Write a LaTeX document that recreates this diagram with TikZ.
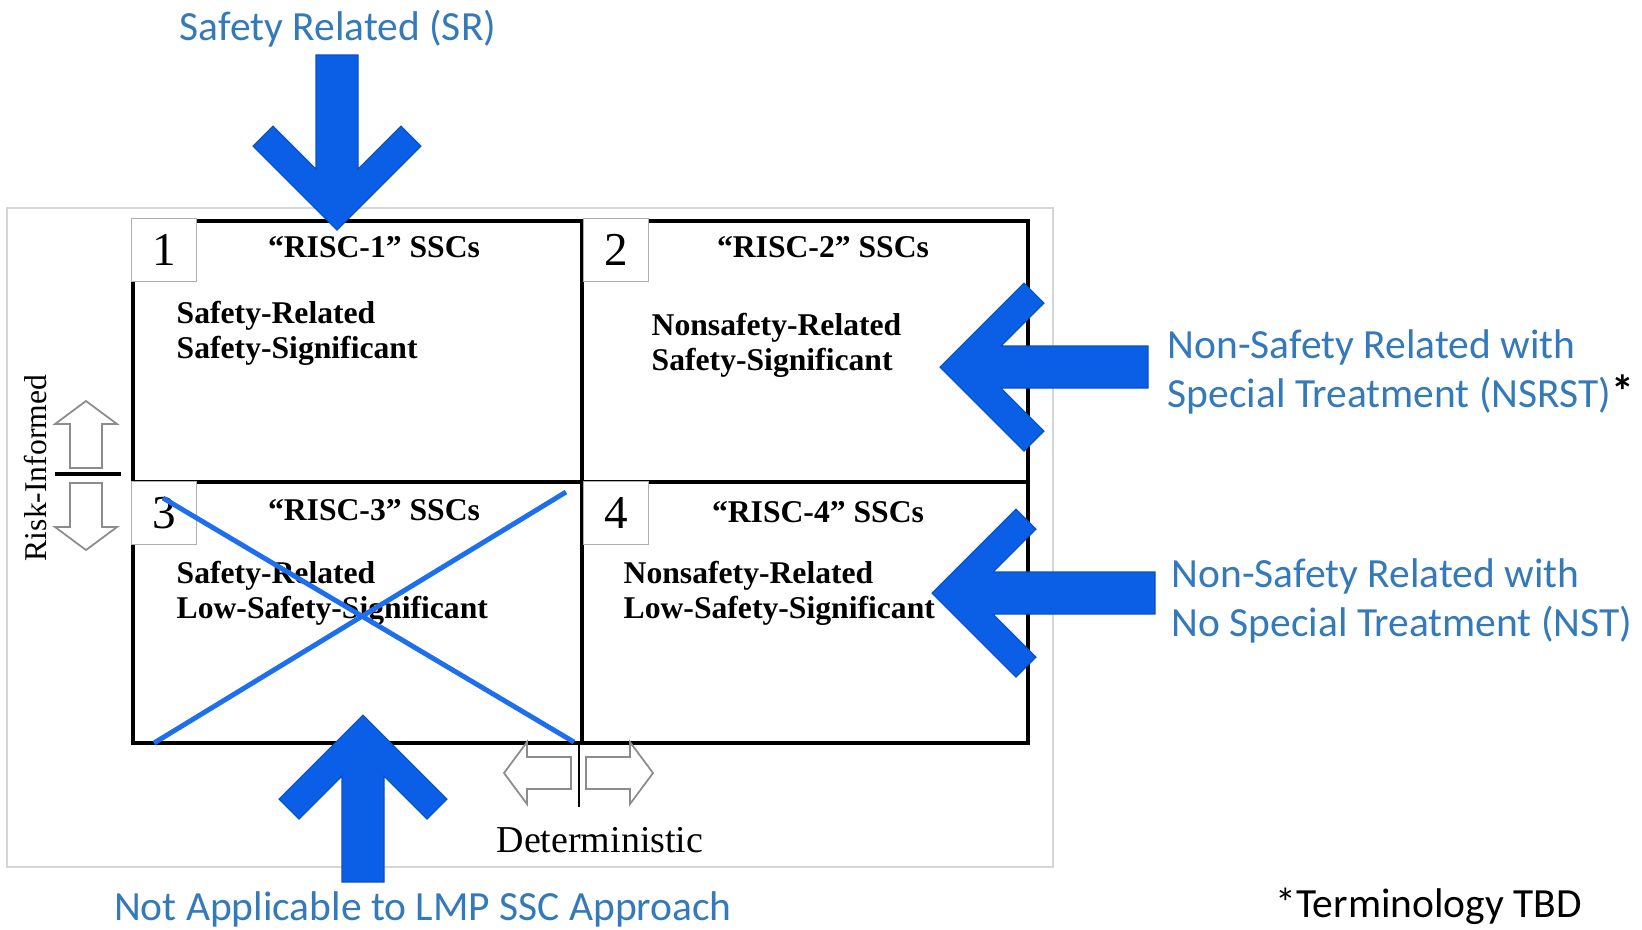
\documentclass[tikz,border=0pt]{standalone}
\usepackage{fontspec}
\setmainfont{Liberation Serif}
\newfontfamily\calibri{Carlito}
\usepackage{xcolor}
\usetikzlibrary{positioning}
\definecolor{riscblue}{HTML}{3479BA}
\definecolor{riscarrow}{HTML}{0A5FE6}
\definecolor{risccross}{HTML}{1E6EF0}
\definecolor{riscframe}{HTML}{D6D6D6}
\definecolor{riscgray}{HTML}{8C8C8C}
\tikzset{
  bluetext/.style={inner sep=0pt,align=left,text=riscblue,
                   font=\calibri\fontsize{11.8}{13.9}\selectfont},
  numbox/.style={rectangle,draw=riscgray!70,line width=0.4pt,fill=white,
                 minimum width=0.65cm,minimum height=0.63cm,inner sep=0pt,
                 anchor=north west,font=\fontsize{13.4}{14}\selectfont},
  risctitle/.style={inner sep=0pt,anchor=base,font=\bfseries\fontsize{9}{9.6}\selectfont},
  cellbody/.style={inner sep=0pt,align=left,anchor=base west,
                   font=\bfseries\fontsize{9}{9.8}\selectfont},
  axistext/.style={inner sep=0pt,anchor=base},
  gridline/.style={line width=1.15pt,draw=black},
  cross/.style={line width=1.4pt,draw=risccross},
  pics/bigarrow/.style={code={
    \fill[riscarrow,draw=riscarrow!85!black,line width=0.3pt]
      (0,0) -- (-84,84) -- (-104,64) -- (-61,21) -- (-#1,21) -- (-#1,-21)
      -- (-61,-21) -- (-104,-64) -- (-84,-84) -- cycle;}},
  pics/hollowarrow/.style={code={
    \draw[riscgray,fill=white,line width=0.5pt]
      (0,0) -- (-23,31) -- (-23,16) -- (-67,16) -- (-67,-16) -- (-23,-16)
      -- (-23,-31) -- cycle;}},
}
\begin{document}
\begin{tikzpicture}[x=0.01cm,y=-0.01cm]
  \fill[white] (0,0) rectangle (1642,929);
  \useasboundingbox (0,0) rectangle (1642,929);
  \draw[riscframe,line width=0.8pt] (7,208) rectangle (1053,867);
  \draw[gridline] (133,221) rectangle (1028,743)
    (582,221) -- (582,743) (133,482) -- (1028,482);
  \node[numbox] (n1) at (131,218) {1};
  \node[numbox] (n2) at (583,218) {2};
  \node[numbox] (n3) at (131,481) {3};
  \node[numbox] (n4) at (583,481) {4};
  \node[risctitle] (t1) at (374,257) {“RISC-1” SSCs};
  \node[risctitle] (t2) at (823,257) {“RISC-2” SSCs};
  \node[risctitle] (t3) at (374,520) {“RISC-3” SSCs};
  \node[risctitle] (t4) at (818,522) {“RISC-4” SSCs};
  \node[cellbody] (b1) at (176,358) {Safety-Related\\Safety-Significant};
  \node[cellbody] (b2) at (651,370) {Nonsafety-Related\\Safety-Significant};
  \node[cellbody] (b3) at (176,618) {Safety-Related\\Low-Safety-Significant};
  \node[cellbody] (b4) at (623,618) {Nonsafety-Related\\Low-Safety-Significant};
  \draw[cross] (163,498) -- (574,742) (154,743) -- (566,492);
  % axes
  \pic[rotate=90] at (86,401) {hollowarrow};
  \pic[rotate=-90] at (86,550) {hollowarrow};
  \draw[line width=1pt] (55,474) -- (121,474);
  \node[axistext,rotate=90,font=\fontsize{9}{10}\selectfont] (risk) at (47,468) {Risk-Informed};
  \pic[rotate=180] at (504,773) {hollowarrow};
  \pic at (653,773) {hollowarrow};
  \draw[line width=0.6pt] (579,741) -- (579,807);
  \node[axistext,font=\fontsize{10.8}{12}\selectfont] (det) at (600,852) {Deterministic};
  % category arrows
  \pic[rotate=-90] at (337,230) {bigarrow=175};
  \pic[rotate=90] at (363,715) {bigarrow=167};
  \pic[rotate=180] at (940,367) {bigarrow=208};
  \pic[rotate=180] at (932,593) {bigarrow=223};
  \node[bluetext,anchor=base] (sr) at (338,40) {Safety Related (SR)};
  \node[bluetext,anchor=base west] (nsrst) at (1167,407)
    {Non-Safety Related with\\Special Treatment (NSRST)\textcolor{black}{\bfseries\fontsize{13}{13.9}\selectfont*}};
  \node[bluetext,anchor=base west] (nst) at (1171,636)
    {Non-Safety Related with\\No Special Treatment (NST)};
  \node[bluetext,anchor=base] (na) at (423,920) {Not Applicable to LMP SSC Approach};
  \node[bluetext,anchor=base west,text=black] (tbd) at (1275,917) {*Terminology TBD};
\end{tikzpicture}
\end{document}
